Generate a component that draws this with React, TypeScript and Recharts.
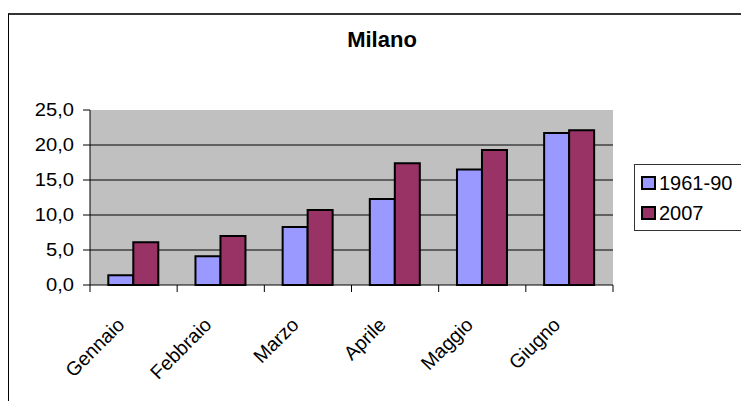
// Milano: temperature medie mensili, confronto 1961-90 con 2007 (stile Excel).
import React from 'react';
import { BarChart, Bar, XAxis, YAxis, CartesianGrid, Legend } from 'recharts';

const months = ['Gennaio', 'Febbraio', 'Marzo', 'Aprile', 'Maggio', 'Giugno'];
const normals = [1.4, 4.1, 8.3, 12.3, 16.5, 21.7];
const year2007 = [6.1, 7.0, 10.7, 17.4, 19.3, 22.1];
const yTicks = [0, 5, 10, 15, 20, 25];

const data = months.map((m, i) => ({ month: m, normal: normals[i], y2007: year2007[i] }));

const FONT = '"Liberation Sans", Arial, sans-serif';
const BLUE = '#9999FF';
const PLUM = '#993366';

const CHART_W = 741;
const MARGIN_L = 90;
const MARGIN_R = 128;
const BAND = (CHART_W - MARGIN_L - MARGIN_R) / months.length;

const fmt = (v: number) => v.toFixed(1).replace('.', ',');

// etichetta ruotata + tacche sui confini delle categorie, come in Excel
const MonthTick = (props: any) => {
  const { x, y, payload, index } = props;
  const ax = x - 8;
  const ay = y + 41;
  const left = x - BAND / 2;
  const right = x + BAND / 2;
  return (
    <g>
      <line x1={left} x2={left} y1={y} y2={y + 7} stroke="#000" />
      {index === months.length - 1 && <line x1={right} x2={right} y1={y} y2={y + 7} stroke="#000" />}
      <text
        x={ax}
        y={ay}
        transform={`rotate(-45, ${ax}, ${ay})`}
        textAnchor="end"
        fontSize={19.5}
        fontFamily={FONT}
        fill="#000"
      >
        {payload.value}
      </text>
    </g>
  );
};

const YTick = (props: any) => {
  const { x, y, payload } = props;
  return (
    <text
      transform={`translate(${x}, ${y}) scale(1.12, 1)`}
      textAnchor="end"
      dominantBaseline="central"
      fontSize={18}
      fontFamily={FONT}
      fill="#000"
    >
      {fmt(payload.value)}
    </text>
  );
};

const LegendBox = () => (
  <div
    style={{
      border: '1px solid #333',
      width: 120,
      height: 67,
      background: '#fff',
      fontFamily: FONT,
      fontSize: 20,
      boxSizing: 'border-box',
    }}
  >
    {[
      { label: '1961-90', color: BLUE },
      { label: '2007', color: PLUM },
    ].map((e, i) => (
      <div key={e.label} style={{ position: 'absolute', left: 7, top: 9 + i * 30, display: 'flex', alignItems: 'center', lineHeight: '20px' }}>
        <span style={{ width: 11, height: 10, border: '2px solid #000', background: e.color, display: 'inline-block', marginRight: 3 }} />
        <span>{e.label}</span>
      </div>
    ))}
  </div>
);

export default function App() {
  return (
    <div style={{ position: 'absolute', left: 0, top: 0, width: 741, height: 401, overflow: 'hidden', background: '#fff' }}>
      <div
        style={{
          position: 'absolute',
          left: 8,
          top: 13,
          width: 733,
          height: 388,
          borderLeft: '1px solid #000',
          borderTop: '2px solid #333',
          boxSizing: 'border-box',
        }}
      />
      <div
        style={{
          position: 'absolute',
          left: 282,
          width: 200,
          top: 29,
          textAlign: 'center',
          fontFamily: FONT,
          fontWeight: 'bold',
          fontSize: 22,
          lineHeight: 1,
        }}
      >
        Milano
      </div>
      <div style={{ position: 'absolute', left: 0, top: 0 }}>
        <BarChart
          width={CHART_W}
          height={401}
          data={data}
          margin={{ top: 110, right: MARGIN_R, bottom: 0, left: 0 }}
          barCategoryGap="21%"
          barGap={0}
        >
          <CartesianGrid
            xAxisId="cat"
            vertical={false}
            horizontalValues={[5, 10, 15, 20]}
            stroke="#000"
            fill="#C0C0C0"
            fillOpacity={1}
          />
          <XAxis
            xAxisId="cat"
            dataKey="month"
            height={116}
            interval={0}
            axisLine={{ stroke: '#000' }}
            tickLine={false}
            tickSize={0}
            tickMargin={0}
            tick={<MonthTick />}
          />
          <XAxis xAxisId="top" dataKey="month" orientation="top" height={0} tick={false} tickLine={false} axisLine={{ stroke: '#808080', strokeWidth: 2 }} />
          <YAxis
            domain={[0, 25]}
            ticks={yTicks}
            width={MARGIN_L}
            tickSize={7}
            tickMargin={9}
            axisLine={{ stroke: '#000' }}
            tickLine={{ stroke: '#000' }}
            tick={<YTick />}
          />
          <YAxis yAxisId="right" orientation="right" width={0} tick={false} tickLine={false} axisLine={{ stroke: '#808080', strokeWidth: 2 }} />
          <Legend
            layout="horizontal"
            verticalAlign="middle"
            align="center"
            content={<LegendBox />}
            wrapperStyle={{ position: 'absolute', left: 634, top: 164, width: 120, height: 67 }}
          />
          <Bar xAxisId="cat" dataKey="normal" name="1961-90" fill={BLUE} stroke="#000" strokeWidth={2} isAnimationActive={false} />
          <Bar xAxisId="cat" dataKey="y2007" name="2007" fill={PLUM} stroke="#000" strokeWidth={2} isAnimationActive={false} />
        </BarChart>
      </div>
    </div>
  );
}
